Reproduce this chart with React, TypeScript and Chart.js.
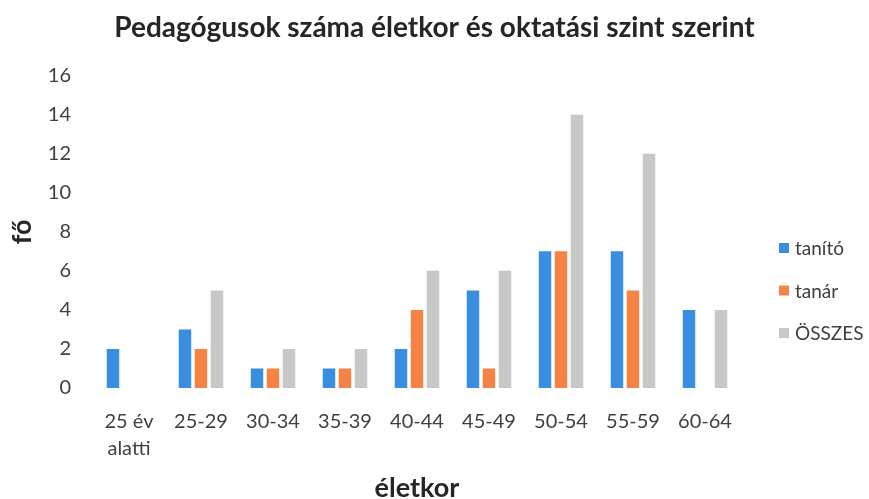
import React, { useEffect, useRef } from "react";
import { Chart, registerables } from "chart.js";

Chart.register(...registerables);

const titleText = "Pedagógusok száma életkor és oktatási szint szerint";
const xTitle = "életkor";
const yTitle = "fő";
const categories: (string | string[])[] = [
  ["25 év", "alatti"],
  "25-29",
  "30-34",
  "35-39",
  "40-44",
  "45-49",
  "50-54",
  "55-59",
  "60-64",
];
const seriesNames = ["tanító", "tanár", "ÖSSZES"];
const tanito = [2, 3, 1, 1, 2, 5, 7, 7, 4];
const tanar = [0, 2, 1, 1, 4, 1, 7, 5, 0];
const osszes = [0, 5, 2, 2, 6, 6, 14, 12, 4];
const yMin = 0;
const yMax = 16;
const yStep = 2;

const FONT = "Lato, 'Open Sans', sans-serif";
const colors = ["#3A8EE0", "#F58346", "#C8C8C8"];

const sideLegend = {
  id: "sideLegend",
  afterDraw(chart: any) {
    const ctx = chart.ctx;
    const area = chart.chartArea;
    ctx.save();
    ctx.font = `19px ${FONT}`;
    ctx.textBaseline = "middle";
    ctx.textAlign = "left";
    chart.data.datasets.forEach((ds: any, i: number) => {
      const y = 248 + i * 42.5;
      const x = area.right + 38;
      ctx.fillStyle = ds.backgroundColor;
      ctx.fillRect(x, y - 5, 10, 10);
      ctx.fillStyle = "#404040";
      ctx.fillText(ds.label, x + 16, y + 1);
    });
    ctx.restore();
  },
};

export default function App() {
  const ref = useRef<HTMLCanvasElement | null>(null);
  useEffect(() => {
    if (!ref.current) return;
    const data = [tanito, tanar, osszes];
    const chart = new Chart(ref.current, {
      type: "bar",
      data: {
        labels: categories as any,
        datasets: seriesNames.map((name, i) => ({
          label: name,
          data: data[i],
          backgroundColor: colors[i],
          borderWidth: 0,
          categoryPercentage: 0.667,
          barPercentage: 0.78,
          yAxisID: "y",
        })),
      },
      options: {
        animation: false,
        responsive: false,
        maintainAspectRatio: false,
        layout: { padding: 0 },
        plugins: {
          legend: { display: false },
          tooltip: { enabled: false },
          title: {
            display: true,
            text: titleText,
            color: "#262626",
            font: { family: FONT, size: 28, weight: "bold", lineHeight: 1.2 },
            padding: { top: 11, bottom: 31 },
          },
        },
        scales: {
          x: {
            grid: { display: false, drawTicks: false },
            border: { display: false },
            ticks: {
              color: "#404040",
              font: { family: FONT, size: 20, lineHeight: 1.35 },
              padding: 20,
              maxRotation: 0,
              autoSkip: false,
            },
            title: {
              display: true,
              text: xTitle,
              color: "#262626",
              font: { family: FONT, size: 27, weight: "bold", lineHeight: 0.5 },
              padding: { top: 0, bottom: 4 },
            },
            afterFit: (scale: any) => {
              scale.height = 111;
            },
          },
          y: {
            min: yMin,
            max: yMax,
            grid: { display: false, drawTicks: false },
            border: { display: false },
            ticks: {
              stepSize: yStep,
              color: "#404040",
              font: { family: FONT, size: 20 },
              padding: 22,
            },
            title: {
              display: true,
              text: yTitle,
              color: "#262626",
              font: { family: FONT, size: 27, weight: "bold", lineHeight: 1.2 },
              padding: { top: 6, bottom: 0 },
            },
            afterFit: (scale: any) => {
              scale.width = 93;
            },
          },
          yRight: {
            position: "right",
            display: true,
            grid: { display: false, drawTicks: false },
            border: { display: false },
            ticks: { display: false },
            afterFit: (scale: any) => {
              scale.width = 128;
            },
          },
        },
      },
      plugins: [sideLegend],
    });
    return () => chart.destroy();
  }, []);
  return (
    <div style={{ position: "absolute", left: 0, top: 0, width: 869, height: 499, background: "#fff" }}>
      <canvas ref={ref} width={869} height={499} style={{ width: 869, height: 499 }} />
    </div>
  );
}
